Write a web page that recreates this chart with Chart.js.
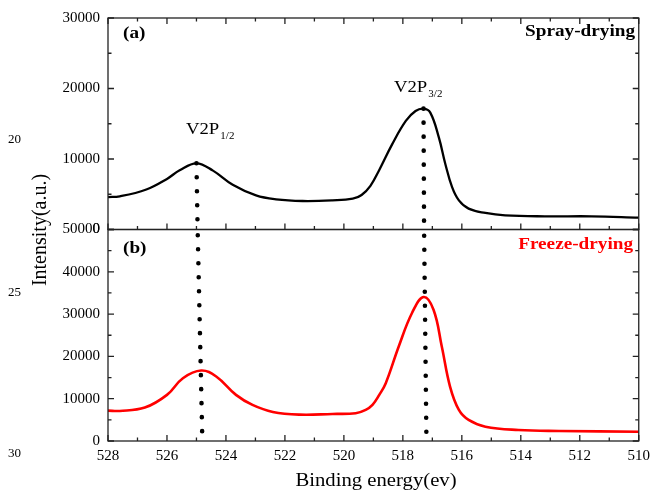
<!DOCTYPE html>
<html>
<head>
<meta charset="utf-8">
<script src="https://cdn.jsdelivr.net/npm/chart.js@4.4.0/dist/chart.umd.min.js"></script>
<style>
body { margin: 0; background: #fff; }
#wrap { position: relative; width: 656px; height: 490px; overflow: hidden; font-family: "Liberation Serif", "Times New Roman", serif; color: #000; }
#xps { position: absolute; left: 0; top: 0; }
.t { position: absolute; white-space: nowrap; line-height: 1; transform-origin: 0 0; }
.b { font-weight: bold; font-size: 16px; }
.peak { font-size: 17px; transform: scaleX(1.1); }
.peak span { font-size: 10px; position: relative; top: 5px; margin-left: 1px; }
.side { font-size: 13px; left: 8px; }
</style>
</head>
<body>
<div id="wrap">
  <canvas id="xps" width="656" height="490"></canvas>
  <div class="t side" style="top:132px">20</div>
  <div class="t side" style="top:285px">25</div>
  <div class="t side" style="top:446px">30</div>
  <div class="t b" style="left:123px;top:25px;transform:scaleX(1.2)">(a)</div>
  <div class="t b" style="left:123px;top:240px;transform:scaleX(1.2)">(b)</div>
  <div class="t b" style="left:635px;top:23px;transform:scaleX(1.2) translateX(-100%)">Spray-drying</div>
  <div class="t b" style="left:633px;top:236px;color:#ff0000;transform:scaleX(1.2) translateX(-100%)">Freeze-drying</div>
  <div class="t peak" style="left:186px;top:120px">V2P<span>1/2</span></div>
  <div class="t peak" style="left:394px;top:78px">V2P<span>3/2</span></div>
  <div class="t" style="left:39px;top:230px;font-size:20px;transform-origin:50% 50%;transform:translate(-50%,-50%) rotate(-90deg)">Intensity(a.u.)</div>
  <div class="t" style="left:376px;top:471px;font-size:18px;transform:scaleX(1.15) translateX(-50%)">Binding energy(ev)</div>
</div>
<script>
// binding energy (eV) and intensity
const sprayEnergy = [528, 527.6, 526.7, 526.0, 525.57, 525.0, 524.44, 523.77, 522.98, 522.3, 521.4, 520.39, 519.7, 519.4, 519.1, 518.8, 518.36, 517.9, 517.57, 517.3, 517.07, 516.78, 516.56, 516.33, 516.1, 515.77, 515.2, 514.53, 513.18, 511.6, 510];
const sprayIntensity = [4600, 4700, 5680, 7180, 8400, 9390, 8350, 6340, 4830, 4270, 4040, 4130, 4370, 4900, 6200, 8450, 12110, 15400, 16800, 17140, 16580, 13060, 9300, 6010, 4130, 2960, 2350, 2010, 1870, 1870, 1690];

const freezeEnergy = [528, 527.6, 526.75, 526.0, 525.46, 524.84, 524.33, 523.66, 523.1, 522.41, 521.5, 520.39, 519.6, 519.26, 519.03, 518.8, 518.58, 518.14, 517.69, 517.3, 516.96, 516.68, 516.4, 516.1, 515.77, 515.2, 514.08, 512.7, 510];
const freezeIntensity = [7180, 7110, 7900, 10900, 14850, 16660, 15240, 10900, 8530, 6870, 6240, 6400, 6560, 7350, 8530, 10900, 13670, 22350, 30260, 34050, 31040, 22350, 12870, 7350, 4980, 3390, 2610, 2370, 2200];

// dotted guides: start at the spray-drying peaks, end on the bottom axis
const guideTopEnergy = [525.0, 517.3];
const guideSeamEnergy = [524.96, 517.28];
const guideBottomEnergy = [524.8, 517.2];

const energyRange = [510, 528];
const topRange = [0, 30000];
const bottomRange = [0, 50000];
const energyStep = 2;
const intensityStep = 10000;

const ctx = document.getElementById('xps').getContext('2d');
Chart.defaults.font.family = '"Liberation Serif", "Times New Roman", serif';
Chart.defaults.color = '#000';

function toPoints(xs, ys) {
    return xs.map((x, i) => ({ x: x, y: ys[i] }));
}

const guides = [];
const dashOffsets = [8.3, 7.7];
guideTopEnergy.forEach((e, k) => {
    const peak = sprayIntensity[sprayEnergy.indexOf(e)];
    const dots = {
        borderColor: '#000',
        borderWidth: 4.6,
        borderDash: [0, 14],
        borderCapStyle: 'round',
        pointRadius: 0,
        tension: 0,
        order: 0
    };
    guides.push(Object.assign({}, dots, {
        yAxisID: 'yTop',
        data: [{ x: e, y: peak }, { x: guideSeamEnergy[k], y: topRange[0] }]
    }));
    guides.push(Object.assign({}, dots, {
        yAxisID: 'yBot',
        borderDashOffset: dashOffsets[k],
        data: [{ x: guideSeamEnergy[k], y: bottomRange[1] }, { x: guideBottomEnergy[k], y: bottomRange[0] }]
    }));
});

// inward tick marks and panel frames, like the original plot
const framePlugin = {
    id: 'frame',
    afterDatasetsDraw(chart) {
        const c = chart.ctx;
        const x = chart.scales.x;
        const area = chart.chartArea;
        c.save();
        c.strokeStyle = '#222';
        c.lineWidth = 1.3;
        ['yTop', 'yBot'].forEach(id => {
            const y = chart.scales[id];
            c.strokeRect(area.left, y.top, area.right - area.left, y.bottom - y.top);
            c.beginPath();
            for (let v = y.min; v <= y.max; v += intensityStep / 2) {
                const py = y.getPixelForValue(v);
                const len = v % intensityStep === 0 ? 6 : 3.5;
                c.moveTo(area.left, py); c.lineTo(area.left + len, py);
                c.moveTo(area.right, py); c.lineTo(area.right - len, py);
            }
            c.stroke();
        });
        const rows = [
            [chart.scales.yTop.top, 1],
            [chart.scales.yTop.bottom, -1],
            [area.bottom, -1]
        ];
        c.beginPath();
        for (let e = x.min; e <= x.max; e += 1) {
            const px = x.getPixelForValue(e);
            const len = e % energyStep === 0 ? 6 : 3.5;
            rows.forEach(([py, dir]) => {
                c.moveTo(px, py); c.lineTo(px, py + dir * len);
            });
        }
        c.stroke();
        c.restore();
    }
};

const yCommon = {
    type: 'linear',
    position: 'left',
    stack: 'panels',
    stackWeight: 1,
    grid: { display: false, drawTicks: false },
    border: { display: false },
    ticks: {
        stepSize: intensityStep,
        padding: 8,
        font: { size: 15 },
        color: '#000',
        callback: v => String(v)
    },
    afterFit(scale) { scale.width = 108; }
};

new Chart(ctx, {
    type: 'line',
    data: {
        datasets: guides.concat([
            {
                label: 'Spray-drying',
                data: toPoints(sprayEnergy, sprayIntensity),
                yAxisID: 'yTop',
                borderColor: '#000',
                borderWidth: 2.3,
                borderJoinStyle: 'round',
                pointRadius: 0,
                tension: 0.4,
                order: 1
            },
            {
                label: 'Freeze-drying',
                data: toPoints(freezeEnergy, freezeIntensity),
                yAxisID: 'yBot',
                borderColor: '#ff0000',
                borderWidth: 2.6,
                borderJoinStyle: 'round',
                pointRadius: 0,
                tension: 0.4,
                order: 1
            }
        ])
    },
    options: {
        responsive: false,
        animation: false,
        layout: { padding: { top: 18, right: 15, left: 0, bottom: 0 } },
        plugins: { legend: { display: false }, tooltip: { enabled: false } },
        scales: {
            x: {
                type: 'linear',
                reverse: true,
                min: energyRange[0],
                max: energyRange[1],
                grid: { display: false, drawTicks: false },
                border: { display: false },
                ticks: { stepSize: energyStep, padding: 6, font: { size: 15 }, color: '#000', callback: v => String(v) },
                afterFit(scale) { scale.height = 49; }
            },
            yBot: Object.assign({}, yCommon, { min: bottomRange[0], max: bottomRange[1] }),
            yTop: Object.assign({}, yCommon, { min: topRange[0], max: topRange[1] })
        }
    },
    plugins: [framePlugin]
});
</script>
</body>
</html>
